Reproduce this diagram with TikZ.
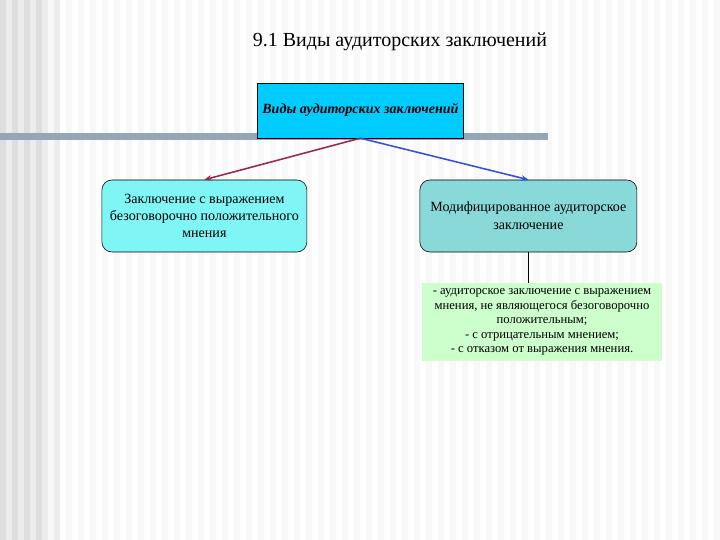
\documentclass[tikz,border=0pt]{standalone}
\usepackage{fontspec}
\setmainfont{Liberation Serif}
\usetikzlibrary{arrows.meta}

\begin{document}
\begin{tikzpicture}
	\tikzstyle{every node}=[font=\fontsize{10pt}{12pt}\selectfont]
	\tikzstyle{kindbox}=[draw, rounded corners=0.25cm, minimum width=5.125cm, minimum height=1.8cm, align=center]
	\tikzstyle{link}=[line width=1.1pt, -{Stealth[length=5pt,width=4pt]}]
	
	% background
	\fill[fill={rgb,255:red,248; green,248; blue,248}] (0,0) rectangle (18,13.5);
	\foreach \x in {0,0.3,...,1.2}
		\fill[fill={rgb,255:red,222; green,222; blue,222}] (\x,0) rectangle (\x+0.15,13.5);
	\foreach \x in {0.15,0.45,...,1.35}
		\fill[fill={rgb,255:red,236; green,236; blue,236}] (\x,0) rectangle (\x+0.15,13.5);
	\foreach \x in {1.5,1.8,...,17.8}
		\fill[white] (\x,0) rectangle (\x+0.15,13.5);
	\fill[fill={rgb,255:red,150; green,166; blue,184}] (0,10.0) rectangle (13.7,10.175);
	
	\node (title) at (10,12.45) {\fontsize{14.2pt}{17pt}\selectfont 9.1 Виды аудиторских заключений};
	
	\node[draw, fill={rgb,255:red,0; green,204; blue,255}, minimum width=5.125cm, minimum height=1.375cm, font=\fontsize{10pt}{12pt}\selectfont\bfseries\itshape] (kinds) at (9.01,10.74) {Виды аудиторских заключений};
	
	\node[kindbox, fill={rgb,255:red,128; green,245; blue,245}, font=\fontsize{10pt}{11.8pt}\selectfont] (clean) at (5.11,8.1) {Заключение с выражением\\ безоговорочно положительного\\ мнения};
	\node[kindbox, fill={rgb,255:red,137; green,217; blue,217}, minimum width=5.425cm, font=\fontsize{10pt}{13pt}\selectfont] (modified) at (13.21,8.1) {Модифицированное аудиторское\\ заключение};
	
	\node[fill={rgb,255:red,204; green,255; blue,204}, minimum width=6cm, minimum height=1.95cm, align=center, font=\fontsize{9pt}{10.4pt}\selectfont] (forms) at (13.55,5.45) {- аудиторское заключение с выражением\\ мнения, не являющегося безоговорочно\\ положительным;\\ - с отрицательным мнением;\\ - с отказом от выражения мнения.};
	
	\draw[link, color={rgb,255:red,150; green,40; blue,80}] (kinds.south) -- (clean.north);
	\draw[link, color={rgb,255:red,50; green,80; blue,220}] (kinds.south) -- (modified.north);
	\draw[line width=1.2pt] (modified.south) -- (modified.south |- forms.north);
	
\end{tikzpicture}
\end{document}
